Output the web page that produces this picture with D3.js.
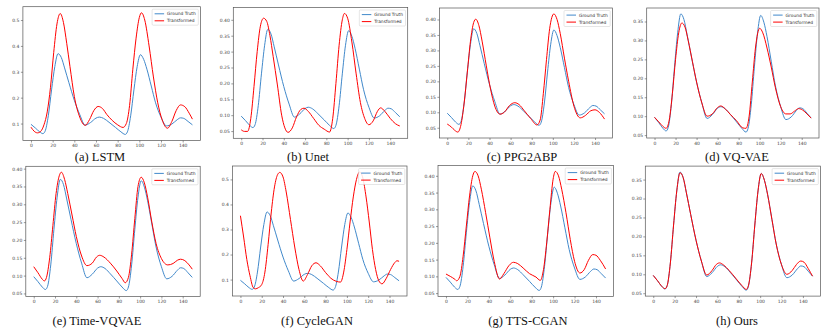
<html>
<head>
<meta charset="utf-8">
<script src="https://d3js.org/d3.v7.min.js"></script>
<style>
  body { margin: 0; background: #fff; }
</style>
</head>
<body>
<div id="chart"></div>
<script>
// ground truth signal (same in every panel), [step, value]
const groundTruth = [[0,0.097],[4,0.083],[8,0.068],[11,0.061],[13,0.07],[16,0.13],[19,0.23],[22,0.32],[25,0.370],[28,0.355],[31,0.315],[35,0.258],[40,0.19],[45,0.135],[50,0.094],[55,0.104],[60,0.121],[63,0.125],[67,0.12],[72,0.105],[78,0.085],[83,0.068],[87,0.058],[89,0.068],[92,0.13],[95,0.23],[98,0.32],[101,0.366],[104,0.348],[107,0.31],[111,0.245],[115,0.18],[120,0.125],[125,0.091],[130,0.098],[135,0.115],[138,0.122],[141,0.120],[145,0.108],[149,0.095]];

// transformed signal of each model
const lstm = [[0,0.086],[3,0.07],[6,0.064],[9,0.07],[12,0.095],[15,0.145],[18,0.24],[21,0.375],[24,0.485],[27,0.525],[30,0.49],[33,0.41],[36,0.32],[40,0.205],[45,0.125],[50,0.093],[54,0.115],[58,0.15],[62,0.166],[66,0.158],[70,0.135],[75,0.112],[80,0.095],[85,0.085],[88,0.1],[91,0.17],[94,0.31],[97,0.43],[100,0.51],[102,0.528],[105,0.5],[109,0.4],[113,0.28],[117,0.18],[121,0.115],[126,0.082],[130,0.108],[134,0.15],[138,0.172],[142,0.165],[146,0.14],[149,0.117]];
const unet = [[0,0.054],[3,0.049],[6,0.049],[9,0.09],[12,0.19],[15,0.3],[18,0.38],[21,0.405],[24,0.395],[27,0.35],[30,0.285],[34,0.195],[38,0.1],[41,0.06],[44,0.046],[48,0.06],[52,0.095],[56,0.118],[59,0.122],[63,0.112],[68,0.09],[73,0.068],[78,0.056],[83,0.047],[86,0.09],[89,0.2],[92,0.32],[95,0.4],[97,0.42],[100,0.405],[104,0.33],[108,0.23],[112,0.14],[116,0.09],[120,0.07],[124,0.082],[128,0.112],[131,0.123],[135,0.112],[140,0.09],[145,0.073],[149,0.066]];
const ppg2abp = [[0,0.062],[4,0.052],[7,0.042],[10,0.036],[13,0.06],[16,0.13],[19,0.23],[22,0.33],[25,0.39],[27,0.401],[30,0.38],[33,0.33],[37,0.25],[41,0.175],[45,0.12],[50,0.094],[54,0.1],[59,0.122],[64,0.131],[68,0.125],[73,0.105],[79,0.08],[85,0.059],[88,0.075],[91,0.16],[94,0.27],[97,0.37],[101,0.418],[104,0.4],[107,0.355],[111,0.275],[115,0.2],[120,0.12],[126,0.082],[131,0.09],[136,0.105],[140,0.108],[144,0.1],[149,0.078]];
const vqvae = [[0,0.097],[4,0.085],[8,0.073],[11,0.068],[14,0.09],[17,0.16],[20,0.25],[23,0.32],[26,0.346],[29,0.335],[32,0.3],[36,0.245],[40,0.19],[45,0.135],[50,0.1],[55,0.106],[60,0.123],[63,0.127],[67,0.12],[72,0.105],[78,0.088],[84,0.069],[87,0.068],[90,0.1],[93,0.19],[96,0.28],[100,0.332],[103,0.32],[107,0.28],[111,0.23],[115,0.175],[120,0.125],[125,0.106],[129,0.106],[133,0.113],[137,0.12],[141,0.116],[145,0.106],[149,0.095]];
const timeVqvae = [[0,0.125],[4,0.108],[8,0.09],[10,0.085],[12,0.095],[15,0.15],[18,0.24],[21,0.33],[24,0.38],[26,0.39],[29,0.37],[32,0.33],[36,0.27],[40,0.21],[45,0.155],[50,0.128],[55,0.135],[59,0.152],[62,0.157],[66,0.152],[72,0.135],[78,0.113],[83,0.092],[86,0.08],[89,0.095],[92,0.16],[95,0.26],[98,0.35],[101,0.376],[104,0.36],[107,0.32],[111,0.25],[115,0.19],[120,0.148],[126,0.13],[131,0.134],[135,0.143],[138,0.146],[142,0.142],[146,0.13],[149,0.118]];
const cycleGan = [[0,0.355],[3,0.27],[6,0.18],[9,0.115],[12,0.068],[14,0.063],[17,0.068],[20,0.08],[23,0.13],[26,0.24],[29,0.37],[32,0.47],[35,0.52],[37,0.528],[40,0.51],[43,0.45],[47,0.34],[51,0.23],[55,0.14],[59,0.094],[63,0.12],[67,0.155],[71,0.167],[75,0.155],[80,0.128],[85,0.105],[90,0.093],[94,0.09],[97,0.13],[100,0.22],[103,0.33],[106,0.43],[109,0.5],[112,0.53],[115,0.505],[118,0.43],[121,0.33],[124,0.22],[127,0.14],[130,0.095],[133,0.083],[137,0.105],[141,0.14],[145,0.168],[147,0.175],[149,0.173]];
const ttsCgan = [[0,0.107],[4,0.1],[8,0.092],[10,0.087],[13,0.1],[16,0.16],[19,0.25],[22,0.34],[25,0.4],[27,0.413],[30,0.4],[33,0.36],[37,0.29],[41,0.215],[45,0.145],[50,0.092],[54,0.108],[59,0.133],[63,0.142],[67,0.138],[72,0.125],[78,0.108],[84,0.098],[88,0.088],[91,0.12],[94,0.2],[97,0.3],[100,0.39],[102,0.413],[105,0.4],[108,0.36],[112,0.29],[116,0.21],[120,0.145],[125,0.11],[129,0.12],[133,0.148],[137,0.165],[140,0.163],[144,0.148],[149,0.122]];
const ours = [[0,0.097],[4,0.083],[8,0.068],[11,0.062],[13,0.07],[16,0.13],[19,0.23],[22,0.32],[25,0.368],[28,0.355],[31,0.315],[35,0.258],[40,0.19],[45,0.135],[50,0.098],[55,0.11],[59,0.126],[62,0.13],[66,0.124],[71,0.11],[77,0.09],[83,0.07],[87,0.06],[89,0.07],[92,0.13],[95,0.23],[98,0.32],[101,0.366],[104,0.348],[107,0.31],[111,0.245],[115,0.18],[120,0.125],[125,0.1],[130,0.11],[134,0.126],[138,0.135],[141,0.132],[145,0.115],[149,0.095]];

const captions = ["(a) LSTM", "(b) Unet", "(c) PPG2ABP", "(d) VQ-VAE", "(e) Time-VQVAE", "(f) CycleGAN", "(g) TTS-CGAN", "(h) Ours"];
const seriesNames = ["Ground Truth", "Transformed"];
const xTicks = [0, 20, 40, 60, 80, 100, 120, 140];
const yTicksCoarse = [0.1, 0.2, 0.3, 0.4, 0.5];
const yTicksFine40 = [0.05, 0.10, 0.15, 0.20, 0.25, 0.30, 0.35, 0.40];
const yTicksFine35 = [0.05, 0.10, 0.15, 0.20, 0.25, 0.30, 0.35];

var width = 830, height = 332;
var blue = '#4189cb', red = '#ff0000';
var tickFont = 4.5;

const svg = d3.select('#chart').append('svg')
  .attr('width', width).attr('height', height)
  .style('font-family', 'DejaVu Sans');

// l, r, t, b = axes box, cx/cy = caption
var panels = [
  {pred: lstm,      yt: yTicksCoarse, fmt: '.1f', l: 22.9,  r: 200.5, t: 6.7,   b: 140.5, cx: 100, cy: 161},
  {pred: unet,      yt: yTicksFine40, fmt: '.2f', l: 233.3, r: 407.7, t: 7.5,   b: 138.3, cx: 308, cy: 161},
  {pred: ppg2abp,   yt: yTicksFine40, fmt: '.2f', l: 439.4, r: 612.4, t: 8,     b: 138,   cx: 522, cy: 161},
  {pred: vqvae,     yt: yTicksFine35, fmt: '.2f', l: 646.7, r: 819,   t: 8,     b: 138,   cx: 737, cy: 161},
  {pred: timeVqvae, yt: yTicksFine40, fmt: '.2f', l: 25.8,  r: 200.2, t: 166.3, b: 296.5, cx: 97,  cy: 324.5},
  {pred: cycleGan,  yt: yTicksCoarse, fmt: '.1f', l: 232.5, r: 407,   t: 166,   b: 296,   cx: 317, cy: 324.5},
  {pred: ttsCgan,   yt: yTicksFine40, fmt: '.2f', l: 438,   r: 613.6, t: 165.5, b: 296.4, cx: 528, cy: 324.5},
  {pred: ours,      yt: yTicksFine35, fmt: '.2f', l: 645.3, r: 820.5, t: 166.1, b: 296.1, cx: 737, cy: 324.5}
];

panels.forEach(function(p, i) {
  var g = svg.append('g');
  // matplotlib style 5% margins
  var x = d3.scaleLinear().domain([-7.45, 156.45]).range([p.l, p.r]);
  var all = groundTruth.concat(p.pred).map(d => d[1]);
  var lo = d3.min(all), hi = d3.max(all), m = (hi - lo) * 0.05;
  var y = d3.scaleLinear().domain([lo - m, hi + m]).range([p.b, p.t]);

  var line = d3.line().x(d => x(d[0])).y(d => y(d[1])).curve(d3.curveMonotoneX);

  g.append('path').datum(groundTruth).attr('d', line)
    .attr('fill', 'none').attr('stroke', blue).attr('stroke-width', 1);
  g.append('path').datum(p.pred).attr('d', line)
    .attr('fill', 'none').attr('stroke', red).attr('stroke-width', 1);

  g.append('rect').attr('x', p.l).attr('y', p.t)
    .attr('width', p.r - p.l).attr('height', p.b - p.t)
    .attr('fill', 'none').attr('stroke', '#555').attr('stroke-width', 0.7);

  var xa = g.append('g').attr('transform', 'translate(0,' + p.b + ')')
    .call(d3.axisBottom(x).tickValues(xTicks).tickSize(2).tickPadding(1.5));
  var ya = g.append('g').attr('transform', 'translate(' + p.l + ',0)')
    .call(d3.axisLeft(y).tickValues(p.yt).tickFormat(d3.format(p.fmt)).tickSize(2).tickPadding(1.5));
  [xa, ya].forEach(function(a) {
    a.select('.domain').remove();
    a.selectAll('line').attr('stroke', '#555').attr('stroke-width', 0.6);
    a.selectAll('text').attr('font-size', tickFont).attr('fill', '#444')
      .attr('font-family', 'DejaVu Sans');
  });

  // legend
  var lg = g.append('g');
  var box = lg.append('rect').attr('fill', '#fff').attr('fill-opacity', 0.85)
    .attr('stroke', '#ccc').attr('stroke-width', 0.5).attr('rx', 1);
  var texts = seriesNames.map(function(name, k) {
    return lg.append('text').text(name).attr('font-size', 4.4).attr('fill', '#333')
      .attr('dy', '0.35em');
  });
  var tw = d3.max(texts, t => t.node().getComputedTextLength());
  var bw = 15 + tw + 2.5, bh = 16;
  var bx = p.r - 2.2 - bw, by = p.t + 2.5;
  box.attr('x', bx).attr('y', by).attr('width', bw).attr('height', bh);
  [blue, red].forEach(function(c, k) {
    var ry = by + 4.6 + k * 7;
    lg.append('line').attr('x1', bx + 2.5).attr('x2', bx + 12)
      .attr('y1', ry).attr('y2', ry).attr('stroke', c).attr('stroke-width', 1);
    texts[k].attr('x', bx + 15).attr('y', ry);
  });

  svg.append('text').attr('x', p.cx).attr('y', p.cy)
    .attr('text-anchor', 'middle')
    .attr('font-family', "'Liberation Serif', 'DejaVu Serif', serif")
    .attr('font-size', 12.5).attr('fill', '#111')
    .text(captions[i]);
});
</script>
</body>
</html>
